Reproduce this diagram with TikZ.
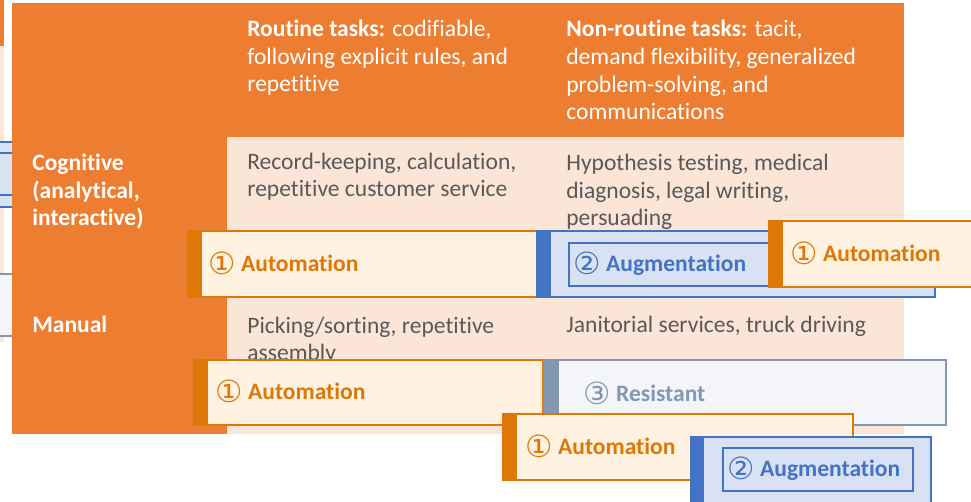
\documentclass[tikz,border=0pt]{standalone}
\usepackage{fontspec}
\setmainfont{Carlito}[Ligatures=NoCommon]
\newfontfamily\circfont{DejaVu Sans}[Scale=1.3]

\definecolor{tblOrange}{RGB}{237,125,49}
\definecolor{tblPeach}{RGB}{251,229,214}
\definecolor{autoOrange}{RGB}{221,120,6}
\definecolor{autoFill}{RGB}{255,242,225}
\definecolor{augBlue}{RGB}{68,114,196}
\definecolor{augFill}{RGB}{217,226,243}
\definecolor{resGrey}{RGB}{132,151,176}
\definecolor{resFill}{RGB}{244,245,249}
\definecolor{cellText}{RGB}{89,89,89}

\newcommand{\cellsize}{\fontsize{13.4}{15.9}\selectfont}
\newcommand{\circnum}[1]{\raisebox{-1.6pt}{\circfont\mdseries #1}}

\tikzset{
  hdr/.style={anchor=base west, align=left, inner sep=0pt, text=white, font=\cellsize},
  cell/.style={hdr, text=cellText},
  lbl/.style={anchor=base west, inner sep=0pt, font=\cellsize\bfseries},
  autobox/.style={draw=autoOrange, fill=autoFill, line width=1.4pt},
  augbox/.style={draw=augBlue, fill=augFill, line width=1.2pt},
  resbox/.style={draw=resGrey, fill=resFill, line width=1.2pt},
}

\begin{document}
\begin{tikzpicture}[x=0.02cm,y=-0.02cm]
  \useasboundingbox (0,0) rectangle (971,502);
  \clip (0,0) rectangle (971,502);

  % bits of the slide next to it
  \fill[tblOrange] (0,0) rectangle (4,46);
  \fill[tblPeach] (0,46) rectangle (4,342);
  \draw[augbox] (-5,142) rectangle (14,207);
  \draw[augBlue, line width=0.8pt] (-5,153) -- (14,153) (-5,195) -- (14,195);
  \draw[resbox] (-5,274) rectangle (14,336);

  % the table (base = last line)
  \fill[tblOrange] (12,3) rectangle (904,434);
  \fill[tblPeach] (227,137) rectangle (904,434);

  \node[hdr] (routine) at (247,92) {\textbf{Routine tasks:} codifiable,\\following explicit rules, and\\repetitive};
  \node[hdr] (nonroutine) at (566,120) {\textbf{Non-routine tasks:} tacit,\\demand flexibility, generalized\\problem-solving, and\\communications};
  \node[hdr, font=\cellsize\bfseries] (cognitive) at (32,226) {Cognitive\\(analytical,\\interactive)};
  \node[hdr, font=\cellsize\bfseries] (manual) at (32,333) {Manual};
  \node[cell] (recordkeeping) at (247,197) {Record-keeping, calculation,\\repetitive customer service};
  \node[cell] (hypothesis) at (566,226) {Hypothesis testing, medical\\diagnosis, legal writing,\\persuading};
  \node[cell] (picking) at (247,361) {Picking/sorting, repetitive\\assembly};
  \node[cell] (janitorial) at (566,333) {Janitorial services, truck driving};

  % cognitive row
  \fill[autoOrange] (187,230) rectangle (201,298);
  \draw[autobox] (201,231) rectangle (537,297);
  \node[lbl, text=autoOrange] (autoOne) at (208,272) {\circnum{①} Automation};

  \fill[augBlue] (536,230) rectangle (550,298);
  \draw[augbox] (550,231) rectangle (935,297);
  \draw[augBlue, line width=0.9pt] (569,243) rectangle (917,286);
  \node[lbl, text=augBlue] (augOne) at (573,272) {\circnum{②} Augmentation};

  \fill[autoOrange] (768,220) rectangle (782,288);
  \draw[autobox] (782,221) rectangle (990,287);
  \node[lbl, text=autoOrange] (autoTwo) at (790,262) {\circnum{①} Automation};

  % manual row
  \fill[autoOrange] (193,359) rectangle (207,426);
  \draw[autobox] (207,360) rectangle (543,425);
  \node[lbl, text=autoOrange] (autoThree) at (215,400) {\circnum{①} Automation};

  \fill[resGrey] (543,359) rectangle (557,426);
  \draw[resbox] (558,360) rectangle (946,425);
  \node[lbl, text=resGrey] (resist) at (583,402) {\circnum{③} Resistant};

  \fill[autoOrange] (502,413) rectangle (516,481);
  \draw[autobox] (516,414) rectangle (853,480);
  \node[lbl, text=autoOrange] (autoFour) at (525,455) {\circnum{①} Automation};

  \fill[augBlue] (690,436) rectangle (703,512);
  \draw[augbox] (703,437) rectangle (931,512);
  \draw[augBlue, line width=0.9pt] (723,448) rectangle (913,491);
  \node[lbl, text=augBlue] (augTwo) at (727,477) {\circnum{②} Augmentation};
\end{tikzpicture}
\end{document}
